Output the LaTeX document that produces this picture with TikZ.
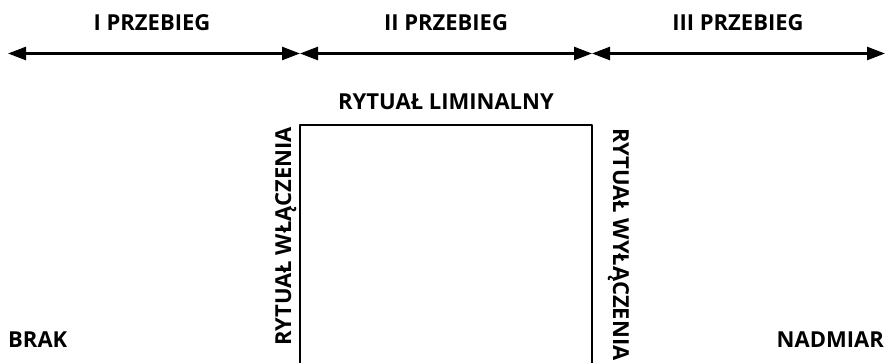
\documentclass[tikz,border=0pt]{standalone}
\usepackage{fontspec}
\setmainfont{Open Sans}
\usetikzlibrary{arrows.meta}

\begin{document}
\begin{tikzpicture}[x=1pt,y=1pt,
  etykieta/.style={font=\fontsize{22}{26}\selectfont\bfseries, inner sep=0pt},
  strzalka/.style={line width=2.5pt, {Triangle[length=18pt,width=13pt]}-{Triangle[length=18pt,width=13pt]}},
  ramka/.style={line width=2pt, line join=round}]
 \useasboundingbox (0,0) rectangle (887,-363); %obszar
 \coordinate (A0) at (8,-53.5); %poczatek I
 \coordinate (A1) at (300,-53.5); %granica I/II
 \coordinate (A2) at (592,-53.5); %granica II/III
 \coordinate (A3) at (885,-53.5); %koniec III
 \draw[strzalka] (A0)--(A1); %I przebieg
 \draw[strzalka] (A1)--(A2); %II przebieg
 \draw[strzalka] (A2)--(A3); %III przebieg
 \node[etykieta, anchor=base] (P1) at (152,-31) {I PRZEBIEG}; %napis I
 \node[etykieta, anchor=base] (P2) at (446,-31) {II PRZEBIEG}; %napis II
 \node[etykieta, anchor=base] (P3) at (738,-31) {III PRZEBIEG}; %napis III
 \coordinate (LD) at (300,-363); %lewy dol
 \coordinate (LG) at (300,-125); %lewa gora
 \coordinate (PG) at (592,-125); %prawa gora
 \coordinate (PD) at (592,-363); %prawy dol
 \draw[ramka] (LD)--(LG)--(PG)--(PD); %ramka
 \node[etykieta, anchor=base] (RL) at (446,-110) {RYTUAŁ LIMINALNY}; %gora
 \node[etykieta, rotate=90, anchor=base east] (RW) at (291,-127) {RYTUAŁ WŁĄCZENIA}; %lewy bok
 \node[etykieta, rotate=-90, anchor=base west] (RY) at (613,-128) {RYTUAŁ WYŁĄCZENIA}; %prawy bok
 \node[etykieta, anchor=base west] (BR) at (8,-348) {BRAK}; %lewo
 \node[etykieta, anchor=base east] (NA) at (884,-348) {NADMIAR}; %prawo
\end{tikzpicture}
\end{document}
